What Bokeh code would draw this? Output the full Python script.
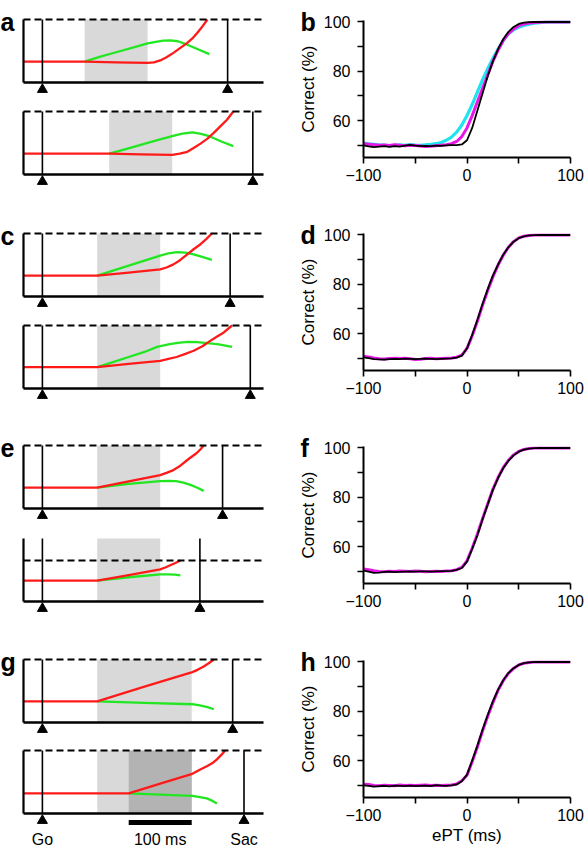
import math
from bokeh.plotting import figure
from bokeh.layouts import row, column
from bokeh.models import Range1d, FixedTicker
from bokeh.core.properties import value
from bokeh.embed import file_html
from bokeh.resources import INLINE

FONT = "Liberation Sans"
RED = "#ff1a1a"
GREEN = "#22e622"
CYAN = "#1fe3ef"
MAGENTA = "#e817e8"
LIGHT_GRAY = "#d9d9d9"
DARK_GRAY = "#b3b3b3"

# ---------------- psychometric curves (right column) ----------------
EPT = [-100, -95, -90, -85, -80, -75, -70, -65, -60, -55, -50, -45, -40, -35, -30,
       -25, -20, -15, -10, -5, 0, 5, 10, 15, 20, 25, 30, 35, 40, 45, 50, 55, 60,
       65, 70, 75, 80, 85, 90, 95, 100]

B_BLACK = [49.9, 49.5, 49.2, 49.4, 49.6, 49.3, 49.6, 49.4, 49.8, 50.1, 49.8, 49.6, 49.7, 49.6, 49.8,
           49.7, 49.9, 50.0, 50.0, 50.3, 52.0, 57.0, 64.0, 71.0, 78.0, 84.0, 89.0, 93.0, 96.0, 98.0,
           99.2, 99.7, 99.9, 100, 100, 100, 100, 100, 100, 100, 100]
B_MAGENTA = [50.6, 50.4, 50.2, 50.0, 50.1, 49.9, 50.2, 50.0, 49.8, 50.0, 49.9, 49.7, 49.5, 49.6, 49.8,
             50.0, 50.2, 50.6, 51.5, 53.5, 57.0, 62.0, 67.5, 73.0, 78.5, 84.0, 88.5, 92.5, 95.3, 97.2,
             98.5, 99.2, 99.6, 99.8, 99.9, 100, 100, 100, 100, 100, 100]
B_CYAN = [50.8, 50.5, 50.3, 50.1, 50.0, 49.8, 49.9, 50.1, 49.9, 50.2, 50.0, 49.9, 50.1, 50.3, 50.6,
          51.1, 52.0, 53.3, 55.3, 58.2, 62.0, 66.5, 71.5, 76.5, 81.0, 85.2, 89.0, 92.5, 95.2, 96.8,
          97.9, 98.6, 99.1, 99.5, 99.7, 99.9, 100, 100, 100, 100, 100]

D_BLACK = [50.3, 50.0, 49.6, 49.5, 49.4, 49.6, 49.7, 49.6, 49.8, 49.7, 49.6, 49.7, 49.8, 49.7, 49.6,
           49.7, 49.8, 49.9, 50.2, 51.0, 54.0, 59.5, 65.5, 72.0, 78.0, 83.5, 88.0, 92.0, 95.0, 97.3,
           98.7, 99.4, 99.8, 99.9, 100, 100, 100, 100, 100, 100, 100]
D_MAGENTA = [50.8, 50.5, 50.1, 49.8, 49.7, 49.9, 50.0, 49.9, 50.0, 49.8, 49.5, 49.6, 49.9, 50.0, 49.8,
             49.9, 50.0, 50.1, 50.4, 51.2, 54.0, 59.0, 65.0, 71.5, 77.5, 83.0, 87.8, 91.8, 95.0, 97.3,
             98.8, 99.5, 99.8, 100, 100, 100, 100, 100, 100, 100, 100]

F_BLACK = [50.2, 49.8, 49.3, 49.4, 49.7, 49.8, 49.6, 49.7, 49.8, 49.9, 49.8, 49.9, 49.9, 49.8, 49.9,
           50.0, 50.0, 50.1, 50.5, 51.3, 53.9, 59.0, 64.5, 71.0, 77.0, 83.0, 87.8, 91.8, 94.8, 97.0,
           98.5, 99.3, 99.7, 99.9, 100, 100, 100, 100, 100, 100, 100]
F_MAGENTA = [50.9, 50.6, 50.2, 49.9, 49.8, 50.0, 49.9, 50.1, 50.0, 49.9, 50.1, 50.0, 49.8, 49.9, 50.0,
             49.9, 50.1, 50.2, 50.6, 51.5, 54.2, 59.3, 65.0, 71.3, 77.3, 83.2, 88.0, 92.0, 95.0, 97.2,
             98.6, 99.4, 99.8, 100, 100, 100, 100, 100, 100, 100, 100]

H_BLACK = [49.9, 49.7, 49.4, 49.6, 49.7, 49.5, 49.8, 49.7, 49.6, 49.8, 49.6, 49.7, 49.8, 49.6, 50.0,
           49.8, 49.7, 49.9, 50.3, 51.6, 54.3, 60.0, 66.0, 72.5, 78.5, 84.0, 88.8, 92.6, 95.5, 97.5,
           98.8, 99.5, 99.8, 100, 100, 100, 100, 100, 100, 100, 100]
H_MAGENTA = [50.4, 50.3, 49.9, 49.8, 50.0, 49.9, 49.8, 50.1, 49.9, 50.0, 49.9, 50.0, 50.1, 49.9, 50.0,
             49.9, 50.0, 50.1, 50.5, 51.8, 54.0, 59.5, 65.5, 72.0, 78.0, 83.5, 88.5, 92.4, 95.4, 97.4,
             98.8, 99.5, 99.8, 100, 100, 100, 100, 100, 100, 100, 100]

Y_TICKS = [50, 60, 70, 80, 90, 100]
Y_TICK_LABELS = ["", "60", "", "80", "", "100"]
X_TICKS = [-100, -50, 0, 50, 100]
X_TICK_LABELS = ["\u2212100", "", "0", "", "100"]
Y_LABEL = "Correct (%)"
X_LABEL = "ePT (ms)"
RIGHT_LETTERS = ["b", "d", "f", "h"]
LEFT_LETTERS = ["a", "c", "e", "g"]

# ---------------- schematic model traces (left column) ----------------
SAC_T = [294, 334, 298, 330, 286, 250, 302, 320]
BOX_START = [67, 106, 87, 87, 87, 87, 87, 87]
BOX_END = [167, 206, 187, 187, 187, 187, 237, 237]
THRESHOLD = [1, 1, 1, 1, 1, 0.65, 1, 1]
DARK_BOX = [137, 237]
SCALE_BAR = [137, 237]
EVENT_LABELS = ["Go", "Sac"]
SCALE_LABEL = "100 ms"

A1_RED_T = [-30, 67, 117, 167, 177, 187, 197, 208, 219, 230, 238, 246, 254, 262]
A1_RED_V = [0.33, 0.33, 0.32, 0.31, 0.32, 0.35, 0.40, 0.47, 0.55, 0.63, 0.70, 0.79, 0.89, 1.0]
A1_GRN_T = [67, 92, 117, 142, 167, 180, 192, 203, 215, 230, 245, 265]
A1_GRN_V = [0.33, 0.41, 0.48, 0.55, 0.62, 0.645, 0.665, 0.67, 0.655, 0.60, 0.535, 0.45]

A2_RED_T = [-30, 106, 156, 206, 218, 230, 240, 251, 262, 272, 282, 293, 303]
A2_RED_V = [0.33, 0.33, 0.32, 0.31, 0.33, 0.36, 0.42, 0.49, 0.57, 0.66, 0.76, 0.87, 1.0]
A2_GRN_T = [106, 131, 156, 181, 206, 222, 238, 252, 267, 285, 303]
A2_GRN_V = [0.33, 0.40, 0.47, 0.54, 0.61, 0.65, 0.67, 0.645, 0.60, 0.52, 0.45]

C1_RED_T = [-30, 87, 137, 187, 197, 208, 219, 230, 240, 251, 260, 269]
C1_RED_V = [0.33, 0.33, 0.38, 0.43, 0.46, 0.51, 0.58, 0.67, 0.75, 0.83, 0.91, 1.0]
C1_GRN_T = [87, 112, 137, 162, 187, 200, 214, 227, 240, 255, 269]
C1_GRN_V = [0.33, 0.41, 0.49, 0.57, 0.65, 0.685, 0.705, 0.695, 0.67, 0.625, 0.58]

C2_RED_T = [-30, 87, 137, 187, 200, 213, 227, 240, 254, 267, 278, 288, 301]
C2_RED_V = [0.34, 0.34, 0.39, 0.44, 0.47, 0.50, 0.55, 0.60, 0.67, 0.76, 0.83, 0.89, 1.0]
C2_GRN_T = [87, 112, 137, 162, 182, 200, 215, 230, 246, 262, 280, 301]
C2_GRN_V = [0.34, 0.42, 0.50, 0.58, 0.66, 0.70, 0.725, 0.74, 0.735, 0.72, 0.70, 0.66]

E1_RED_T = [-30, 87, 137, 187, 198, 208, 219, 230, 238, 245, 251, 256]
E1_RED_V = [0.33, 0.33, 0.43, 0.53, 0.57, 0.61, 0.68, 0.77, 0.83, 0.88, 0.94, 1.0]
E1_GRN_T = [87, 137, 187, 200, 212, 224, 236, 246, 256]
E1_GRN_V = [0.33, 0.39, 0.435, 0.44, 0.435, 0.41, 0.37, 0.33, 0.28]

E2_RED_T = [-30, 87, 137, 187, 195, 203, 211, 219]
E2_RED_V = [0.33, 0.33, 0.42, 0.51, 0.54, 0.575, 0.61, 0.65]
E2_GRN_T = [87, 137, 187, 200, 210, 219]
E2_GRN_V = [0.33, 0.385, 0.43, 0.43, 0.425, 0.415]

G1_RED_T = [-30, 87, 162, 238, 247, 256, 264, 272]
G1_RED_V = [0.335, 0.335, 0.57, 0.80, 0.84, 0.89, 0.94, 1.0]
G1_GRN_T = [87, 162, 238, 250, 262, 272]
G1_GRN_V = [0.335, 0.31, 0.29, 0.27, 0.245, 0.21]

G2_RED_T = [-30, 137, 187, 238, 249, 261, 270, 277, 284, 290]
G2_RED_V = [0.32, 0.32, 0.475, 0.63, 0.69, 0.75, 0.80, 0.86, 0.93, 1.0]
G2_GRN_T = [137, 187, 238, 250, 261, 270, 277]
G2_GRN_V = [0.32, 0.30, 0.28, 0.26, 0.24, 0.20, 0.16]

# ---------------- geometry ----------------
PPU = 63.0      # px per activity unit
PPMS = 0.63     # px per ms
T_START, T_END = -30, 351
BOX_TOP = 1.0
LEFT_W = 290
SPINE_PX = 23
TRI_PX = 7

LEFT_H = [97, 117, 96, 117, 95, 119, 95, 116]
LEFT_AXIS_FROM_BOTTOM = [15, 40, 14, 39, 14, 40, 14, 39]

MID_W = 30          # strip holding panel letters and the y-axis titles
RIGHT_W = 264
RIGHT_H = [214, 213, 214, 211]
RIGHT_TOP = [20, 19, 19, 19]
FRAME_H = 137
LETTER_X_PX = 10
YLABEL_X_PX = 18


def schematic(i, red_t, red_v, grn_t, grn_v, letter=None, dark_box=None, bottom=False):
    h = LEFT_H[i]
    afb = LEFT_AXIS_FROM_BOTTOM[i]
    xs = T_START - SPINE_PX / PPMS
    p = figure(width=LEFT_W, height=h,
               x_range=Range1d(xs, xs + LEFT_W / PPMS),
               y_range=Range1d(-afb / PPU, (h - afb) / PPU),
               x_axis_location=None, y_axis_location=None,
               toolbar_location=None, output_backend="svg", min_border=0)
    p.outline_line_color = None
    p.grid.visible = False
    p.quad(left=[BOX_START[i]], right=[BOX_END[i]], bottom=[0], top=[BOX_TOP],
           fill_color=LIGHT_GRAY, line_color=None)
    if dark_box is not None:
        p.quad(left=[dark_box[0]], right=[dark_box[1]], bottom=[0], top=[BOX_TOP],
               fill_color=DARK_GRAY, line_color=None)
    p.line(grn_t, grn_v, line_color=GREEN, line_width=2.3, line_join="round")
    p.line(red_t, red_v, line_color=RED, line_width=2.3, line_join="round")
    p.line([T_START, T_END], [THRESHOLD[i]] * 2, line_color="black", line_width=2,
           line_dash="7 4")
    p.segment(x0=[0, SAC_T[i]], y0=[0, 0], x1=[0, SAC_T[i]], y1=[BOX_TOP, BOX_TOP],
              line_color="black", line_width=1.6)
    p.line([T_START, T_START], [0, BOX_TOP], line_color="black", line_width=2.2)
    p.line([T_START, T_END], [0, 0], line_color="black", line_width=2.6)
    p.scatter([0, SAC_T[i]], [-TRI_PX / PPU] * 2, marker="triangle", size=10,
              fill_color="black", line_color="black")
    if letter is not None:
        p.text(x=[xs], y=[BOX_TOP], text=[letter], text_font=value(FONT),
               text_font_size="25px", text_font_style="bold",
               text_baseline="alphabetic", text_align="left", y_offset=2)
    if bottom:
        bar_y = -9 / PPU
        p.segment(x0=[SCALE_BAR[0]], y0=[bar_y], x1=[SCALE_BAR[1]], y1=[bar_y],
                  line_color="black", line_width=5, line_cap="butt")
        p.text(x=[0, (SCALE_BAR[0] + SCALE_BAR[1]) / 2, SAC_T[i]], y=[0, 0, 0],
               text=[EVENT_LABELS[0], SCALE_LABEL, EVENT_LABELS[1]],
               text_font=value(FONT), text_font_size="16px",
               text_align="center", text_baseline="middle", y_offset=26)
    return p


def strip(k):
    # narrow strip left of each psychometric panel: panel letter + y-axis title
    h = RIGHT_H[k]
    top = RIGHT_TOP[k]
    p = figure(width=MID_W, height=h, x_range=Range1d(0, MID_W), y_range=Range1d(h, 0),
               x_axis_location=None, y_axis_location=None,
               toolbar_location=None, output_backend="svg", min_border=0)
    p.outline_line_color = None
    p.grid.visible = False
    p.text(x=[LETTER_X_PX], y=[top + 1], text=[RIGHT_LETTERS[k]],
           text_font=value(FONT), text_font_size="25px", text_font_style="bold",
           text_baseline="alphabetic", text_align="left", text_color="black")
    p.text(x=[YLABEL_X_PX], y=[top + FRAME_H / 2], text=[Y_LABEL], angle=math.pi / 2,
           text_font=value(FONT), text_font_size="17px",
           text_baseline="middle", text_align="center", text_color="black")
    return p


def psych(k, series, xlabel=False):
    h = RIGHT_H[k]
    top = RIGHT_TOP[k]
    p = figure(width=RIGHT_W, height=h, x_range=Range1d(-100, 100),
               y_range=Range1d(45, 100.6), toolbar_location=None,
               output_backend="svg", min_border_left=42, min_border_right=14,
               min_border_top=top, min_border_bottom=h - top - FRAME_H)
    p.outline_line_color = None
    p.grid.visible = False
    for ys, col, lw in series:
        p.line(EPT, ys, line_color=col, line_width=lw, line_join="round")
    for ax in (p.xaxis[0], p.yaxis[0]):
        ax.axis_line_width = 2
        ax.axis_line_color = "black"
        ax.major_tick_line_width = 1.6
        ax.major_tick_line_color = "black"
        ax.major_tick_out = 6
        ax.major_tick_in = 0
        ax.minor_tick_line_color = None
        ax.major_label_text_font = FONT
        ax.major_label_text_font_size = "16px"
        ax.major_label_text_color = "black"
        ax.axis_label_text_font = FONT
        ax.axis_label_text_font_size = "17px"
        ax.axis_label_text_font_style = "normal"
        ax.axis_label_text_color = "black"
    p.xaxis.ticker = FixedTicker(ticks=X_TICKS)
    p.xaxis.major_label_overrides = dict(zip(X_TICKS, X_TICK_LABELS))
    p.xaxis.major_label_standoff = 5
    p.yaxis.ticker = FixedTicker(ticks=Y_TICKS)
    p.yaxis.major_label_overrides = dict(zip(Y_TICKS, Y_TICK_LABELS))
    p.yaxis.major_label_standoff = 7
    if xlabel:
        p.xaxis.axis_label = X_LABEL
        p.xaxis.axis_label_standoff = 2
    return p


left = [
    schematic(0, A1_RED_T, A1_RED_V, A1_GRN_T, A1_GRN_V, letter=LEFT_LETTERS[0]),
    schematic(1, A2_RED_T, A2_RED_V, A2_GRN_T, A2_GRN_V),
    schematic(2, C1_RED_T, C1_RED_V, C1_GRN_T, C1_GRN_V, letter=LEFT_LETTERS[1]),
    schematic(3, C2_RED_T, C2_RED_V, C2_GRN_T, C2_GRN_V),
    schematic(4, E1_RED_T, E1_RED_V, E1_GRN_T, E1_GRN_V, letter=LEFT_LETTERS[2]),
    schematic(5, E2_RED_T, E2_RED_V, E2_GRN_T, E2_GRN_V),
    schematic(6, G1_RED_T, G1_RED_V, G1_GRN_T, G1_GRN_V, letter=LEFT_LETTERS[3]),
    schematic(7, G2_RED_T, G2_RED_V, G2_GRN_T, G2_GRN_V, dark_box=DARK_BOX, bottom=True),
]

mid = [strip(k) for k in range(4)]

right = [
    psych(0, [(B_CYAN, CYAN, 3.2), (B_MAGENTA, MAGENTA, 3.0), (B_BLACK, "black", 1.8)]),
    psych(1, [(D_MAGENTA, MAGENTA, 3.0), (D_BLACK, "black", 1.8)]),
    psych(2, [(F_MAGENTA, MAGENTA, 3.0), (F_BLACK, "black", 1.8)]),
    psych(3, [(H_MAGENTA, MAGENTA, 3.0), (H_BLACK, "black", 1.8)], xlabel=True),
]

layout = row(column(*left, spacing=0), column(*mid, spacing=0),
             column(*right, spacing=0), spacing=0)
open("out.html", "w").write(file_html(layout, INLINE, "Figure"))
